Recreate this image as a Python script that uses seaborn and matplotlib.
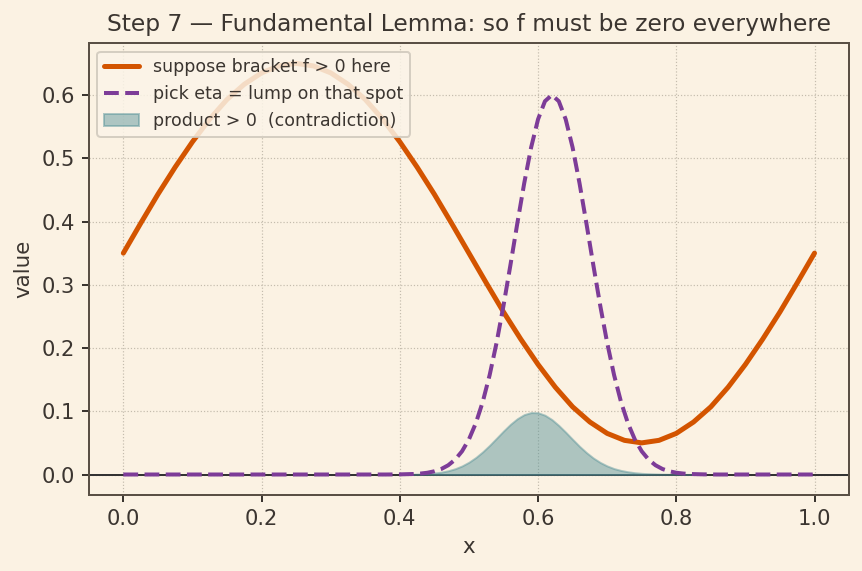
import numpy as np
import matplotlib
matplotlib.use("Agg")
import matplotlib.pyplot as plt
import seaborn as sns

# bracket f (orange curve), read at x step 0.025
f_x = [0.0, 0.025, 0.05, 0.075, 0.1, 0.125, 0.15, 0.175, 0.2, 0.225,
       0.25, 0.275, 0.3, 0.325, 0.35, 0.375, 0.4, 0.425, 0.45, 0.475,
       0.5, 0.525, 0.55, 0.575, 0.6, 0.625, 0.65, 0.675, 0.7, 0.725,
       0.75, 0.775, 0.8, 0.825, 0.85, 0.875, 0.9, 0.925, 0.95, 0.975, 1.0]
f_y = [0.350, 0.397, 0.443, 0.486, 0.526, 0.562, 0.593, 0.617, 0.635, 0.646,
       0.650, 0.646, 0.635, 0.617, 0.593, 0.562, 0.526, 0.486, 0.443, 0.397,
       0.350, 0.303, 0.257, 0.214, 0.174, 0.138, 0.107, 0.083, 0.065, 0.054,
       0.050, 0.054, 0.065, 0.083, 0.107, 0.138, 0.174, 0.214, 0.257, 0.303, 0.350]

# eta lump (dashed purple)
eta_x = [0.0, 0.1, 0.2, 0.3, 0.38, 0.40,
         0.42, 0.43, 0.44, 0.45, 0.46, 0.47, 0.48, 0.49, 0.50, 0.51,
         0.52, 0.53, 0.54, 0.55, 0.56, 0.57, 0.58, 0.59, 0.60, 0.61,
         0.62, 0.63, 0.64, 0.65, 0.66, 0.67, 0.68, 0.69, 0.70, 0.71,
         0.72, 0.73, 0.74, 0.75, 0.76, 0.77, 0.78, 0.79, 0.80, 0.81, 0.82,
         0.84, 0.86, 0.9, 1.0]
eta_y = [0.0, 0.0, 0.0, 0.0, 0.0, 0.0002,
         0.0008, 0.0015, 0.0028, 0.0051, 0.0087, 0.0146, 0.0235, 0.0367, 0.0555, 0.0812,
         0.1149, 0.1573, 0.2083, 0.2669, 0.3309, 0.3969, 0.4606, 0.5171, 0.5616, 0.5902,
         0.6000, 0.5902, 0.5616, 0.5171, 0.4606, 0.3969, 0.3309, 0.2669, 0.2083, 0.1573,
         0.1149, 0.0812, 0.0555, 0.0367, 0.0235, 0.0146, 0.0087, 0.0051, 0.0028, 0.0015, 0.0008,
         0.0002, 0.0, 0.0, 0.0]

# product f * eta (shaded)
prod_x = [0.40, 0.42, 0.43, 0.44, 0.45, 0.46, 0.47, 0.48, 0.49, 0.50, 0.51,
          0.52, 0.53, 0.54, 0.55, 0.56, 0.57, 0.58, 0.59, 0.60, 0.61,
          0.62, 0.63, 0.64, 0.65, 0.66, 0.67, 0.68, 0.69, 0.70, 0.71,
          0.72, 0.73, 0.74, 0.75, 0.76, 0.77, 0.78, 0.79, 0.80, 0.81, 0.82, 0.84]
prod_y = [0.0, 0.0004, 0.0007, 0.0013, 0.0023, 0.0037, 0.0059, 0.0091, 0.0135, 0.0194, 0.0269,
          0.0359, 0.0462, 0.0574, 0.0687, 0.0793, 0.0882, 0.0947, 0.0979, 0.0976, 0.0937,
          0.0868, 0.0775, 0.0668, 0.0555, 0.0445, 0.0346, 0.0260, 0.0190, 0.0135, 0.0093,
          0.0064, 0.0043, 0.0028, 0.0018, 0.0012, 0.0008, 0.0005, 0.0003, 0.0002, 0.0001, 0.0001, 0.0]

bg = "#fbf2e3"
ink = "#3b3530"

sns.set_theme(style="whitegrid", rc={
    "figure.facecolor": bg,
    "axes.facecolor": bg,
    "axes.edgecolor": "#5a5045",
    "axes.linewidth": 1.0,
    "grid.color": "#c4bcad",
    "grid.linestyle": ":",
    "grid.linewidth": 0.6,
    "text.color": ink,
    "axes.labelcolor": ink,
    "xtick.color": ink,
    "ytick.color": ink,
    "xtick.bottom": True,
    "ytick.left": True,
    "xtick.major.size": 3.5,
    "ytick.major.size": 3.5,
    "xtick.major.width": 1.0,
    "ytick.major.width": 1.0,
})

fig, ax = plt.subplots(figsize=(862 / 144, 571 / 144), dpi=144)
fig.subplots_adjust(left=0.103, right=0.985, top=0.925, bottom=0.133)

ax.axhline(0, color="#333333", lw=1.0, zorder=1.5)
sns.lineplot(x=f_x, y=f_y, ax=ax, color="#d35400", lw=2.5,
             label="suppose bracket f > 0 here", zorder=3)
sns.lineplot(x=eta_x, y=eta_y, ax=ax, color="#7d3c98", lw=2.0,
             linestyle="--", label="pick eta = lump on that spot", zorder=3)
ax.fill_between(prod_x, 0, prod_y, color="#4f8e95", alpha=0.45, lw=1.0,
                label="product > 0  (contradiction)", zorder=2)

ax.set_title("Step 7 — Fundamental Lemma: so f must be zero everywhere", fontsize=11.7)
ax.set_xlabel("x", fontsize=10.7)
ax.set_ylabel("value", fontsize=10.7)
ax.tick_params(labelsize=10.5)
ax.set_xticks([0.0, 0.2, 0.4, 0.6, 0.8, 1.0])

leg = ax.legend(loc="upper left", fontsize=8.7, frameon=True, fancybox=True,
                facecolor="#fbf4e8", edgecolor="#cfc8bc", framealpha=0.85)

fig.savefig("out.png", dpi=144, facecolor=bg)
